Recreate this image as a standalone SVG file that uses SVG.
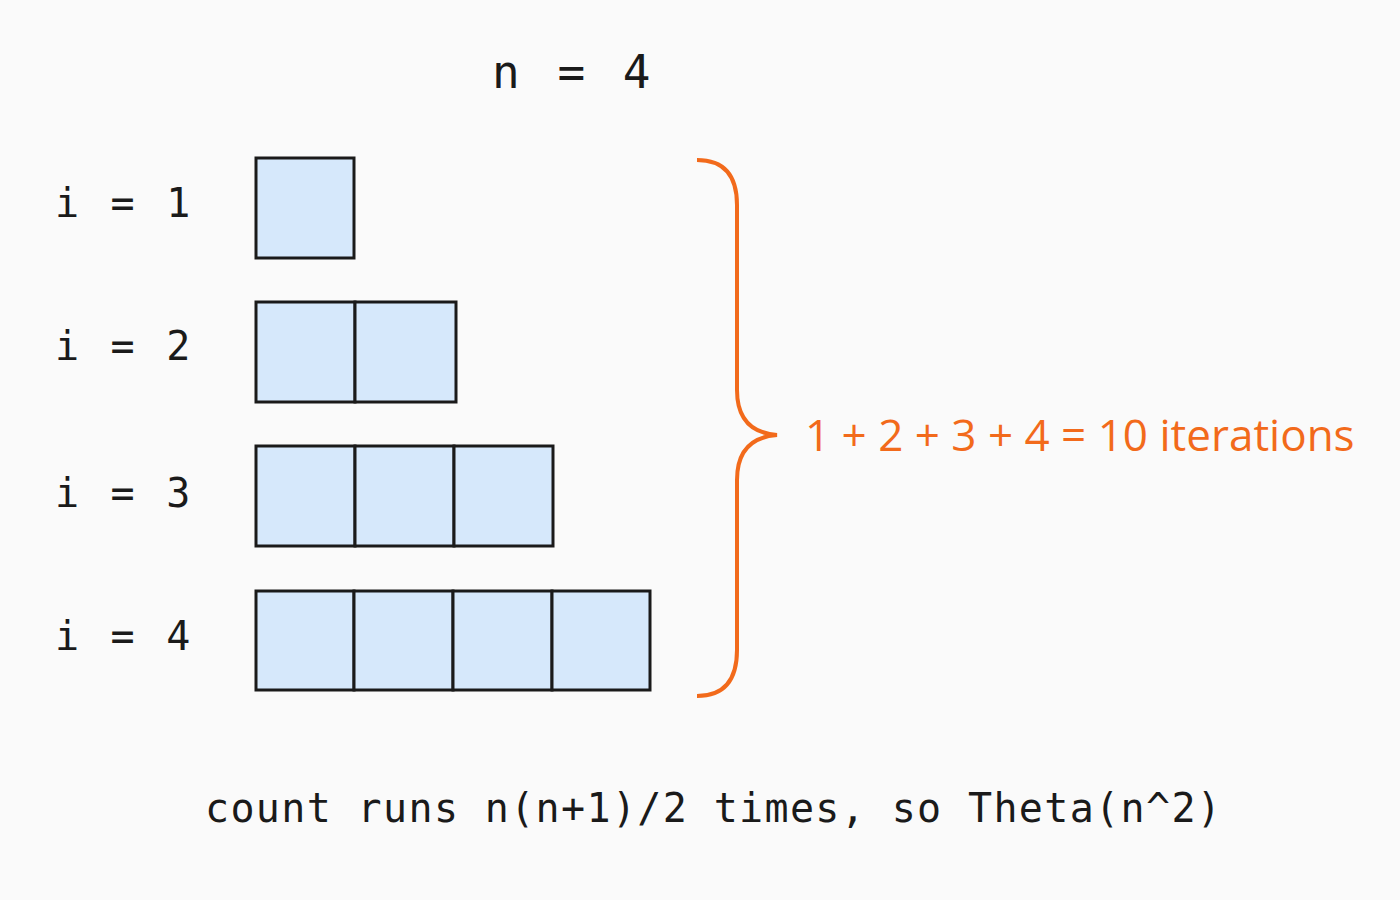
<svg xmlns="http://www.w3.org/2000/svg" width="1400" height="900" viewBox="0 0 1400 900">
<style>
.m{font-family:"DejaVu Sans Mono",monospace;fill:#1a1a1a}
.l{font-size:40px;letter-spacing:3.7px}
.c{fill:#d6e8fb;stroke:#1a1a1a;stroke-width:3}
.o{font-family:"Open Sans","Liberation Sans",sans-serif;fill:#f26a1b;font-size:44px}
</style>
<rect width="1400" height="900" fill="#fafafa"/>
<text class="m" x="492" y="88" font-size="46" letter-spacing="5">n = 4</text>
<g id="row1"><text class="m l" x="55" y="217">i = 1</text>
<rect class="c" x="256" y="158" width="98" height="100"/></g>
<g id="row2"><text class="m l" x="55" y="360">i = 2</text>
<rect class="c" x="256" y="302" width="99" height="100"/><rect class="c" x="355" y="302" width="101" height="100"/></g>
<g id="row3"><text class="m l" x="55" y="507">i = 3</text>
<rect class="c" x="256" y="446" width="99" height="100"/><rect class="c" x="355" y="446" width="99" height="100"/><rect class="c" x="454" y="446" width="99" height="100"/></g>
<g id="row4"><text class="m l" x="55" y="650">i = 4</text>
<rect class="c" x="256" y="591" width="98" height="99"/><rect class="c" x="354" y="591" width="99" height="99"/><rect class="c" x="453" y="591" width="99" height="99"/><rect class="c" x="552" y="591" width="98" height="99"/></g>
<g id="connectors"><path d="M697 160 Q737 160 737 205 L737 390 Q737 432 777 435 Q737 438 737 480 L737 650 Q737 696 697 696" fill="none" stroke="#f26a1b" stroke-width="4"/></g>
<g id="label"><text class="o" x="805" y="451">1 + 2 + 3 + 4 = 10 iterations</text></g>
<text class="m" x="205" y="822" font-size="40" letter-spacing="1.35">count runs n(n+1)/2 times, so Theta(n^2)</text>
</svg>
